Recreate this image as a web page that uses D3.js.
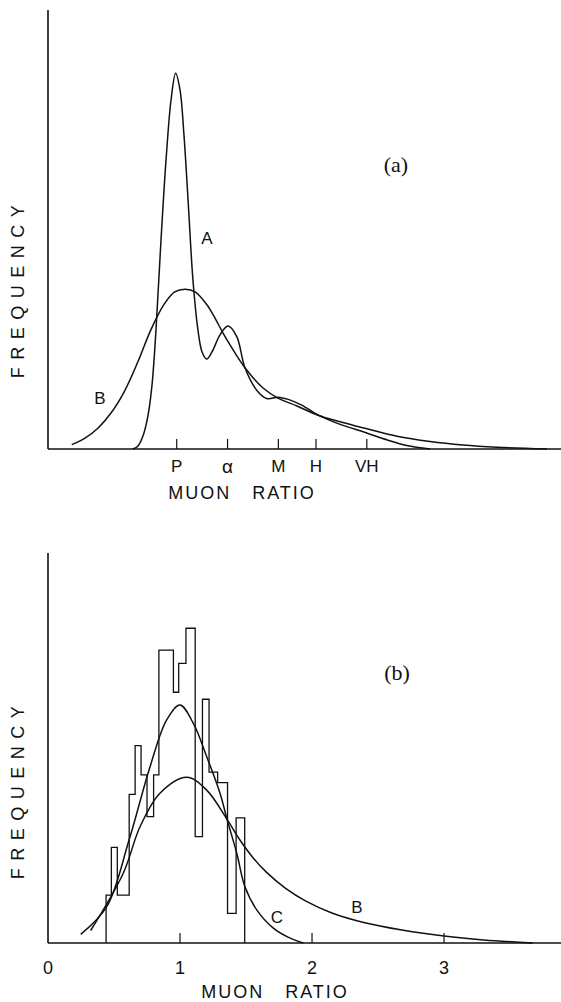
<!DOCTYPE html>
<html>
<head>
<meta charset="utf-8">
<script src="https://cdn.jsdelivr.net/npm/d3@7"></script>
<style>
  body { margin: 0; background: #fff; }
  svg text { font-family: "Liberation Sans", "DejaVu Sans", sans-serif; fill: #111; }
  .serif { font-family: "Liberation Serif", "DejaVu Serif", serif; }
</style>
</head>
<body>
<svg width="561" height="1002"></svg>
<script>
// Panel (a): curves A and B, x in muon ratio, y in arbitrary frequency (0-100)
let curvaA = [
  [0.644, 0], [0.682, 0.7], [0.720, 3.0], [0.758, 7.7], [0.788, 14.6], [0.818, 27.1],
  [0.856, 47.6], [0.894, 65.8], [0.932, 79.5], [0.967, 85.6], [1.000, 81.8], [1.030, 71.5],
  [1.061, 56.7], [1.098, 38.5], [1.136, 27.1], [1.167, 22.1], [1.202, 20.5], [1.242, 22.1],
  [1.303, 26.0], [1.364, 28.0], [1.430, 25.6], [1.492, 18.5], [1.581, 13.4], [1.657, 11.5],
  [1.745, 11.8], [1.820, 11.3], [1.922, 10.0], [2.048, 7.7], [2.187, 5.9], [2.419, 3.6],
  [2.566, 2.1], [2.717, 0.8], [2.894, 0]
]
let curvaB = [
  [0.18, 1.0], [0.28, 2.5], [0.38, 4.8], [0.48, 8.3], [0.58, 13.2], [0.68, 19.8],
  [0.78, 27.2], [0.88, 33.0], [0.96, 35.8], [1.04, 36.4], [1.114, 35.8], [1.205, 32.8],
  [1.265, 29.8], [1.326, 26.4], [1.379, 23.7], [1.492, 18.5], [1.629, 13.9], [1.742, 11.6],
  [1.886, 9.8], [2.045, 7.7], [2.212, 6.2], [2.417, 4.6], [2.644, 2.9], [2.894, 1.7],
  [3.144, 0.9], [3.402, 0.4], [3.780, 0]
]
let ticksA = [0.975, 1.36, 1.745, 2.03, 2.415]
let etiquetasA = ['P', 'α', 'M', 'H', 'VH']

// Panel (b): histogram bins [x0, x1, freq] and curves C and B
let bins = [
  [0.44, 0.48, 12.3], [0.48, 0.525, 24.5], [0.525, 0.615, 12.3], [0.615, 0.66, 38.1],
  [0.66, 0.705, 50.6], [0.705, 0.75, 43.1], [0.75, 0.80, 32.4], [0.80, 0.84, 43.1],
  [0.84, 0.95, 75.1], [0.95, 0.99, 64.3], [0.99, 1.045, 71.7], [1.045, 1.115, 80.7],
  [1.115, 1.17, 27.3], [1.17, 1.22, 62.5], [1.22, 1.285, 43.8], [1.285, 1.36, 41.1],
  [1.36, 1.425, 7.6], [1.425, 1.49, 32.1]
]
let curvaC = [
  [0.248, 2.2], [0.445, 9.3], [0.614, 26.4], [0.773, 45.2], [0.899, 57.2], [1.000, 61.0],
  [1.101, 56.3], [1.202, 47.8], [1.303, 38.4], [1.358, 31.5], [1.430, 23.0], [1.492, 14.4],
  [1.581, 8.5], [1.707, 3.8], [1.818, 1.5], [1.934, 0]
]
let curvaB2 = [
  [0.323, 3.2], [0.570, 17.9], [0.697, 29.8], [0.848, 38.4], [1.051, 42.5], [1.202, 39.2],
  [1.36, 31.5], [1.45, 26.6], [1.55, 22.0], [1.65, 18.3], [1.80, 14.0], [1.95, 10.8],
  [2.15, 7.7], [2.40, 5.2], [2.67, 3.4], [3.00, 1.8], [3.30, 0.8], [3.67, 0]
]
let ticksB = [1, 2, 3]
let etiquetasB = ['0', '1', '2', '3']

let svg = d3.select('svg')
let tinta = '#111'

let x = d3.scaleLinear().domain([0, 3.886]).range([48, 561])
let yA = d3.scaleLinear().domain([0, 100]).range([449, 10])
let yB = d3.scaleLinear().domain([0, 100]).range([943, 553])

let panel = (y, top, bottom) => {
  let g = svg.append('g')
  // ejes
  g.append('line').attr('x1', x(0)).attr('x2', x(0)).attr('y1', top).attr('y2', bottom)
    .attr('stroke', tinta).attr('stroke-width', 1.6)
  g.append('line').attr('x1', x(0)).attr('x2', 561).attr('y1', bottom).attr('y2', bottom)
    .attr('stroke', tinta).attr('stroke-width', 1.6)
  return g
}

let curva = (g, datos, y) => {
  g.append('path')
    .attr('d', d3.line().x(d => x(d[0])).y(d => y(d[1])).curve(d3.curveCatmullRom.alpha(0.5))(datos))
    .attr('fill', 'none').attr('stroke', tinta).attr('stroke-width', 1.5)
}

let ticks = (g, vals, y) => {
  g.selectAll('line.tick').data(vals).enter().append('line')
    .attr('x1', d => x(d)).attr('x2', d => x(d))
    .attr('y1', y(0)).attr('y2', y(0) - 10)
    .attr('stroke', tinta).attr('stroke-width', 1.2)
}

let texto = (t, px, py, size, cls) => {
  let el = svg.append('text').text(t)
    .attr('x', px).attr('y', py)
    .attr('text-anchor', 'middle').attr('dominant-baseline', 'central')
    .attr('font-size', size)
    .style('white-space', 'pre')
  if (cls) el.attr('class', cls)
  return el
}

/* Panel (a) */
let gA = panel(yA, 10, 449)
curva(gA, curvaA, yA)
curva(gA, curvaB, yA)
ticks(gA, ticksA, yA)
etiquetasA.forEach((t, i) => texto(t, x(ticksA[i]), 466, t === 'α' ? 19 : 17))
texto('MUON   RATIO', 242, 493, 18).attr('letter-spacing', 2)
texto('(a)', 396, 164, 22, 'serif')
texto('A', 207, 238, 17)
texto('B', 100, 398, 17)
texto('FREQUENCY', 18, 288, 18).attr('letter-spacing', 7.5)
  .attr('transform', 'rotate(-90, 18, 288)')

/* Panel (b) */
let gB = panel(yB, 553, 943)
let escalones = [[bins[0][0], 0]]
bins.forEach(b => { escalones.push([b[0], b[2]]); escalones.push([b[1], b[2]]) })
escalones.push([bins[bins.length - 1][1], 0])
gB.append('path')
  .attr('d', d3.line().x(d => x(d[0])).y(d => yB(d[1]))(escalones))
  .attr('fill', 'none').attr('stroke', tinta).attr('stroke-width', 1.3)
curva(gB, curvaC, yB)
curva(gB, curvaB2, yB)
ticks(gB, ticksB, yB)
etiquetasB.forEach((t, i) => texto(t, x(i), 968, 18))
texto('MUON   RATIO', 275, 992, 18).attr('letter-spacing', 2)
texto('(b)', 397, 672, 22, 'serif')
texto('C', 277, 917, 17)
texto('B', 357, 907, 17)
texto('FREQUENCY', 18, 789, 18).attr('letter-spacing', 7.5)
  .attr('transform', 'rotate(-90, 18, 789)')
</script>
</body>
</html>
